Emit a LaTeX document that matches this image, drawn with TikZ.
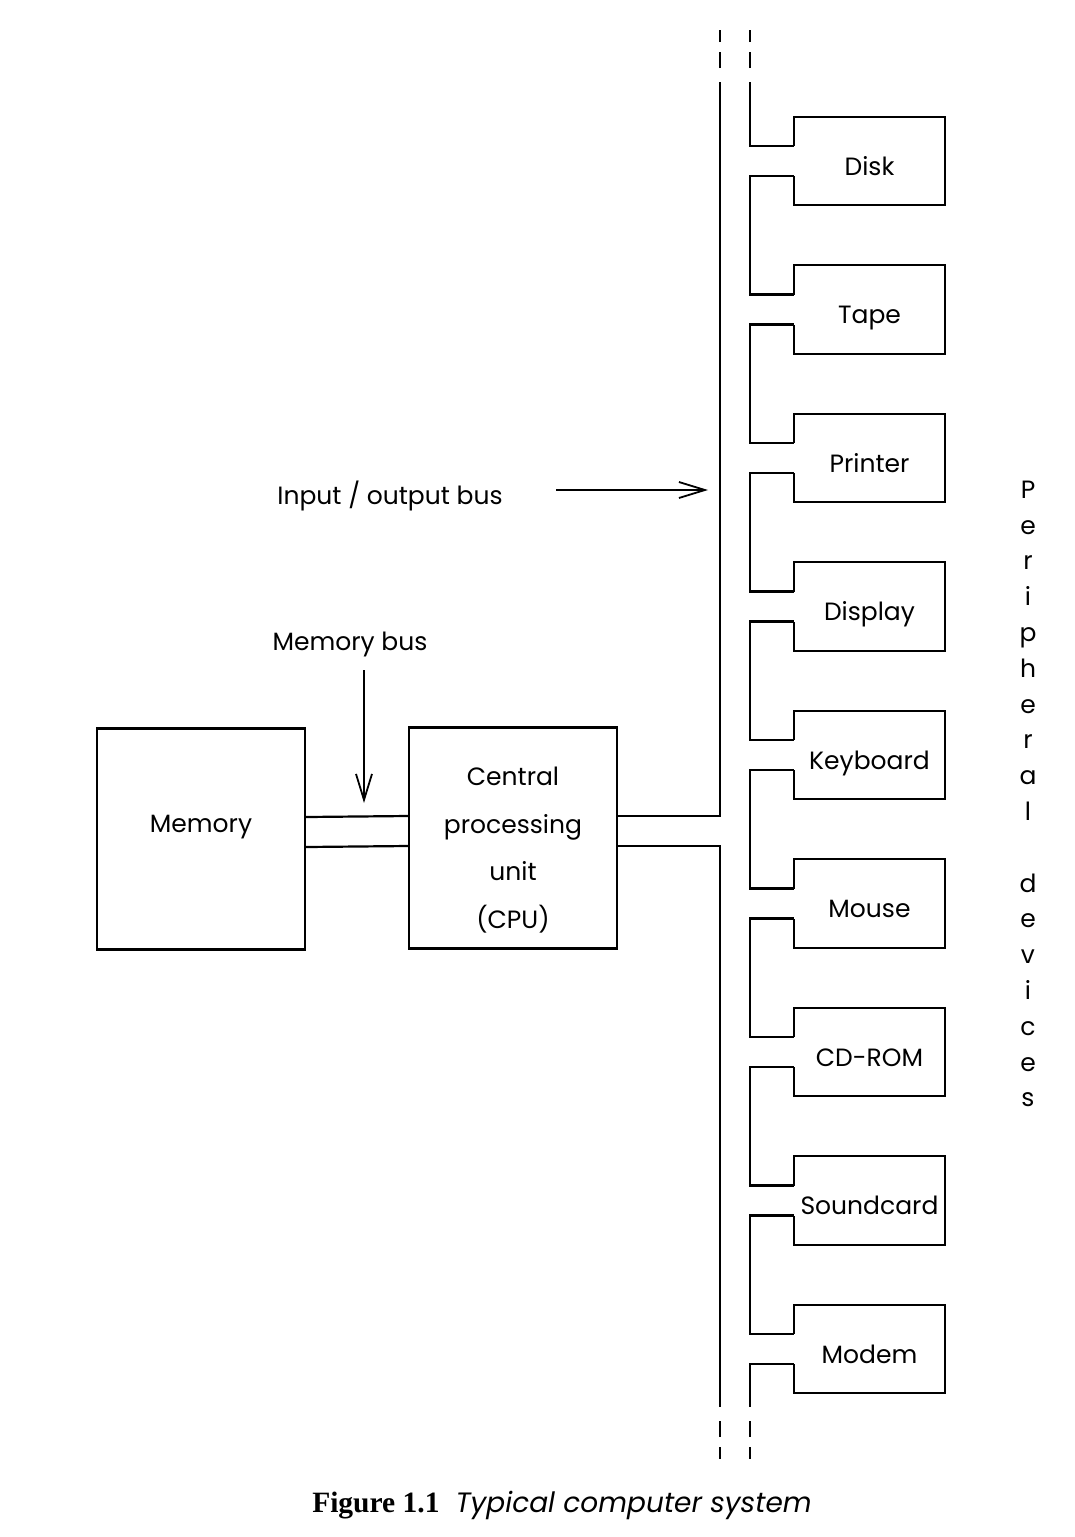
\documentclass[tikz,border=0pt]{standalone}
\usepackage{fontspec}
\setmainfont{Poppins}
\newfontfamily\capfont{Liberation Serif}
\usetikzlibrary{positioning,arrows.meta,calc}

\begin{document}
\begin{tikzpicture}[x=1pt,y=-1pt,font=\fontsize{25}{30}\selectfont,
  unit/.style={rectangle,draw,line width=2.4pt,minimum width=208pt,minimum height=221pt,inner sep=0pt,align=center},
  dev/.style={rectangle,minimum width=151pt,minimum height=88pt,inner sep=0pt,text height=28pt,text depth=0pt},
  wire/.style={line width=2.2pt},
  busdash/.style={line width=2.2pt,dash pattern=on 0pt off 14pt on 16pt off 10pt on 12pt},
  ar/.style={-{Straight Barb[length=26pt,width=16pt]},line width=1.8pt}]
\useasboundingbox (0,0) rectangle (1074,1537);
% processor and memory
\node[unit,text height=7pt,text depth=20pt] (mem) at (201,839) {Memory};
\node[unit,label={[align=center,yshift=-12pt,font=\fontsize{25}{47.5}\selectfont]center:Central\\processing\\unit\\(CPU)}] (cpu) at (513,838) {};
\draw[wire] ($(mem.east)+(0,-22)$) -- ($(cpu.west)+(0,-22)$);
\draw[wire] ($(mem.east)+(0,8)$) -- ($(cpu.west)+(0,8)$);
% input / output bus
\coordinate (ltop) at (720,82);
\coordinate (lbot) at (720,1407);
\coordinate (rtop) at (750,82);
\coordinate (rbot) at (750,1407);
\draw[wire] ($(cpu.east)+(0,-22)$) -| (ltop);
\draw[wire] ($(cpu.east)+(0,8)$) -| (lbot);
\draw[busdash] (ltop) -- ++(0,-52);
\draw[busdash] (lbot) -- ++(0,52);
\draw[busdash] (rtop) -- ++(0,-52);
\draw[busdash] (rbot) -- ++(0,52);
% peripherals
\foreach \nm/\txt [count=\i] in {disk/Disk,tape/Tape,printer/Printer,display/Display,keyboard/Keyboard,mouse/Mouse,cdrom/CD-ROM,sound/Soundcard,modem/Modem}
  \node[dev] (\nm) at (869.5,{161+148.5*(\i-1)}) {\txt};
\foreach \nm in {disk,tape,printer,display,keyboard,mouse,cdrom,sound,modem}
  \draw[wire] ($(\nm.west)+(0,-15)$) -- (\nm.north west) -- (\nm.north east) -- (\nm.south east) -- (\nm.south west) -- ($(\nm.west)+(0,15)$);
\draw[wire] (rtop) |- ($(disk.west)+(0,-15)$);
\foreach \a/\b in {disk/tape,tape/printer,printer/display,display/keyboard,keyboard/mouse,mouse/cdrom,cdrom/sound,sound/modem}
  \draw[wire] ($(\a.west)+(0,15)$) -- ++(-44,0) |- ($(\b.west)+(0,-15)$);
\draw[wire] ($(modem.west)+(0,15)$) -| (rbot);
% labels
\node (iolab) at (390,496) {Input / output bus};
\coordinate (iofrom) at (556,490);
\coordinate (iotip) at (708,490);
\draw[ar] (iofrom) -- (iotip);
\node (mblab) at (350,644) {Memory bus};
\coordinate (mbfrom) at (364,670);
\coordinate (mbtip) at (364,803);
\draw[ar] (mbfrom) -- (mbtip);
\node[align=center,font=\fontsize{25}{35.8}\selectfont] (periph) at (1028,794) {P\\e\\r\\i\\p\\h\\e\\r\\a\\l\\[35.8pt]d\\e\\v\\i\\c\\e\\s};
% caption
\node (cap) at (562,1505) {{\capfont\bfseries\fontsize{29.5}{32}\selectfont Figure 1.1}\hspace{16pt}{\fontsize{28}{32}\selectfont\itshape Typical computer system}};
\end{tikzpicture}
\end{document}
